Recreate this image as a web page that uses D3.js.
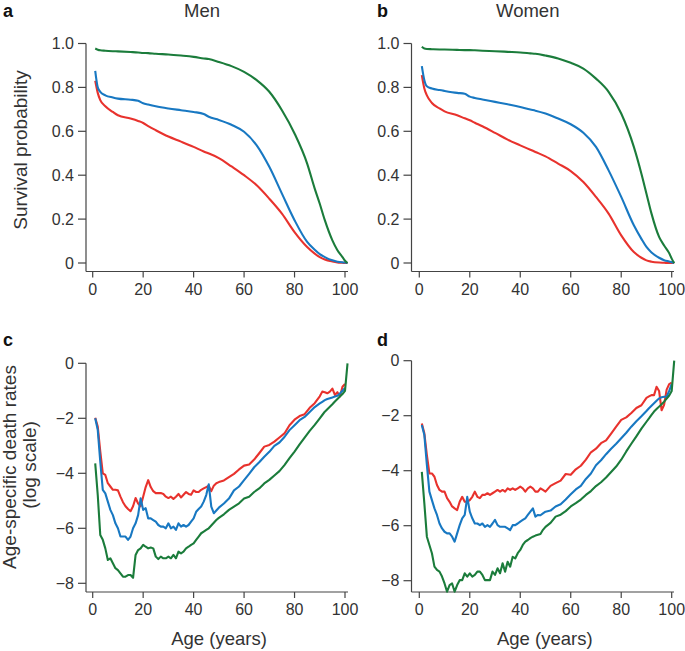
<!DOCTYPE html>
<html>
<head>
<meta charset="utf-8">
<script src="https://d3js.org/d3.v7.min.js"></script>
<style>
  body { margin: 0; background: #fff; }
  text { font-family: "Liberation Sans", Arial, Helvetica, sans-serif; fill: #333; }
</style>
</head>
<body>
<script>

var w = 685, h = 651;

// ages for survival curves
var survAges = [1,2,3,5,8,10,15,18,20,22,25,30,35,40,44,46,50,55,60,65,70,75,80,85,88,90,92,95,97,99,100,101];

var menRed   = [.83,.775,.742,.714,.688,.673,.658,.647,.638,.624,.605,.576,.553,.529,.508,.499,.478,.44,.40,.354,.293,.225,.141,.073,.043,.027,.016,.007,.003,.001,0,0];
var menBlue  = [.875,.80,.78,.764,.754,.749,.744,.739,.728,.722,.714,.704,.696,.688,.679,.666,.652,.630,.598,.536,.438,.316,.195,.096,.06,.04,.027,.012,.006,.003,.002,0];
var menGreen = [.977,.972,.969,.967,.965,.964,.961,.959,.957,.956,.953,.950,.945,.939,.932,.929,.916,.897,.871,.833,.78,.696,.59,.453,.339,.27,.195,.103,.058,.027,.01,0];

var womenRed   = [.856,.795,.764,.729,.704,.691,.673,.659,.650,.639,.623,.593,.562,.536,.516,.506,.486,.453,.419,.369,.301,.225,.126,.05,.024,.012,.006,.002,.001,0,0,0];
var womenBlue  = [.897,.833,.805,.795,.788,.784,.775,.771,.758,.752,.745,.734,.723,.711,.699,.694,.681,.658,.632,.593,.529,.422,.301,.172,.11,.073,.048,.024,.013,.007,.004,0];
var womenGreen = [.985,.977,.975,.974,.973,.973,.971,.970,.970,.969,.967,.965,.962,.959,.955,.953,.945,.932,.912,.886,.84,.78,.681,.529,.407,.316,.225,.119,.08,.045,.02,0];

// ages for death rates
var deathAges = [1,2,3,4,5,6,7,8,9,10,11,12,13,14,15,16,17,18,19,20,21,22,23,24,25,26,27,28,29,30,
  31,32,33,34,35,36,37,38,39,40,41,42,43,44,45,46,47,48,49,50,
  52,54,56,58,60,62,64,66,68,70,72,74,76,78,80,82,84,86,88,
  90,91,92,93,94,95,96,97,98,99,100,101];

var menRateRed = [-1.98,-2.3,-3.2,-4.0,-4.06,-4.36,-4.48,-4.6,-4.6,-4.62,
  -4.85,-5.05,-5.2,-5.3,-5.38,-5.2,-4.9,-5.1,-5.2,-4.85,
  -4.5,-4.25,-4.5,-4.65,-4.72,-4.72,-4.72,-4.75,-4.85,-4.9,
  -4.85,-4.93,-4.85,-4.75,-4.88,-4.78,-4.68,-4.75,-4.78,-4.62,
  -4.68,-4.68,-4.6,-4.55,-4.5,-4.45,-4.65,-4.45,-4.36,-4.32,
  -4.26,-4.14,-4.02,-3.86,-3.72,-3.68,-3.5,-3.27,-3.03,-2.97,-2.85,-2.7,-2.55,-2.25,-2.05,-1.92,-1.85,-1.62,-1.45,
  -1.2,-1.03,-1.05,-1.09,-1.03,-0.92,-1.15,-1.05,-1.2,-0.85,-0.75,null];
var menRateBlue = [-2.0,-2.42,-3.58,-4.6,-4.73,-5.03,-5.33,-5.52,-5.82,-6.0,
  -6.3,-6.3,-6.3,-6.42,-6.3,-6.0,-5.82,-5.52,-4.91,-5.33,
  -5.27,-5.64,-5.64,-5.7,-5.76,-5.88,-5.94,-5.94,-6.0,-5.82,
  -6.0,-5.94,-6.06,-5.82,-5.94,-5.88,-5.94,-5.88,-5.76,-5.64,
  -5.4,-5.3,-5.21,-5.03,-4.79,-4.4,-5.21,-5.45,-5.35,-5.25,
  -5.1,-4.92,-4.62,-4.48,-4.25,-4.02,-3.78,-3.6,-3.4,-3.22,-3.0,-2.88,-2.68,-2.43,-2.25,-2.07,-1.95,-1.77,-1.59,
  -1.46,-1.4,-1.34,-1.3,-1.27,-1.24,-1.21,-1.18,-1.1,-1.0,-0.9,null];
var menRateGreen = [-3.64,-4.79,-6.24,-6.42,-6.73,-7.15,-7.09,-7.27,-7.45,-7.52,
  -7.64,-7.76,-7.76,-7.7,-7.7,-7.8,-6.97,-6.79,-6.73,-6.6,
  -6.67,-6.73,-6.7,-6.73,-7.03,-7.12,-7.03,-7.09,-7.09,-7.03,
  -7.09,-6.97,-7.09,-6.85,-6.91,-6.85,-6.73,-6.67,-6.6,-6.55,
  -6.42,-6.3,-6.18,-6.12,-6.06,-6.0,-5.9,-5.8,-5.7,-5.62,
  -5.49,-5.33,-5.21,-5.09,-4.92,-4.85,-4.68,-4.55,-4.37,-4.24,-4.08,-3.92,-3.7,-3.45,-3.21,-2.95,-2.7,-2.46,-2.24,
  -2.0,-1.88,-1.76,-1.67,-1.58,-1.49,-1.39,-1.3,-1.21,-1.12,-1.0,0];

var womenRateRed = [-2.28,-2.64,-3.43,-4.1,-4.1,-4.22,-4.52,-4.7,-4.76,-4.76,
  -5.0,-5.13,-5.3,-5.37,-5.43,-5.13,-4.95,-5.13,-5.13,-5.07,
  -4.95,-4.76,-4.95,-5.0,-4.88,-4.88,-4.82,-4.88,-4.82,-4.76,
  -4.7,-4.76,-4.7,-4.76,-4.64,-4.7,-4.64,-4.7,-4.64,-4.58,
  -4.64,-4.76,-4.64,-4.58,-4.64,-4.76,-4.76,-4.64,-4.7,-4.76,
  -4.55,-4.45,-4.36,-4.12,-4.15,-3.95,-3.82,-3.6,-3.33,-3.2,-3.0,-2.9,-2.65,-2.4,-2.15,-2.06,-1.9,-1.72,-1.62,
  -1.35,-1.3,-1.25,-1.25,-0.95,-1.1,-1.8,-1.6,-1.05,-0.85,-0.8,null];
var womenRateBlue = [-2.34,-2.7,-3.79,-4.76,-5.07,-5.37,-5.61,-5.92,-6.1,-6.22,
  -6.28,-6.28,-6.4,-6.58,-6.28,-5.98,-5.73,-5.61,-4.95,-5.49,
  -5.73,-5.92,-5.92,-5.98,-5.92,-6.04,-5.98,-6.04,-5.92,-5.79,
  -5.98,-6.04,-6.04,-6.04,-6.1,-6.16,-5.98,-5.98,-5.92,-5.85,
  -5.79,-5.73,-5.61,-5.49,-5.37,-5.67,-5.61,-5.62,-5.55,-5.49,
  -5.45,-5.3,-5.22,-5.05,-4.86,-4.68,-4.55,-4.3,-4.1,-3.8,-3.62,-3.4,-3.2,-3.02,-2.82,-2.62,-2.4,-2.2,-2.02,
  -1.83,-1.73,-1.64,-1.55,-1.46,-1.37,-1.33,-1.31,-1.31,-1.1,-0.85,null];
var womenRateGreen = [-4.04,-5.19,-6.4,-6.7,-7.0,-7.49,-7.61,-7.67,-7.85,-8.1,
  -8.4,-8.16,-8.1,-8.4,-8.16,-7.98,-7.98,-7.73,-7.85,-7.73,
  -7.85,-7.79,-7.67,-7.67,-7.79,-7.98,-7.98,-7.98,-7.67,-7.79,
  -7.55,-7.73,-7.37,-7.67,-7.31,-7.49,-7.13,-7.19,-7.0,-6.88,
  -6.7,-6.58,-6.52,-6.45,-6.4,-6.36,-6.33,-6.3,-6.15,-6.04,
  -5.9,-5.67,-5.6,-5.47,-5.3,-5.18,-5.05,-4.88,-4.74,-4.56,-4.42,-4.25,-4.05,-3.85,-3.6,-3.3,-3.02,-2.75,-2.47,
  -2.22,-2.1,-1.97,-1.85,-1.76,-1.67,-1.58,-1.49,-1.38,-1.27,-1.1,0];

var xTicks = [0,20,40,60,80,100];
var survTicks = [0,0.2,0.4,0.6,0.8,1.0];
var survTickLabels = ["0","0.2","0.4","0.6","0.8","1.0"];
var rateTicks = [0,-2,-4,-6,-8];
var rateTickLabels = ["0","\u22122","\u22124","\u22126","\u22128"];

var colors = ["#e8322d", "#1878c2", "#1b7c3b"];

var svg = d3.select("body").append("svg")
  .attr("width", w)
  .attr("height", h);

var panels = [
  {letter: "a", title: "Men", left: 86, x0: 92.7, x1: 345, right: 348, top: 43.5, y0: 263, y1: 43.5, base: 271.5,
   domain: [0, 1], ticks: survTicks, labels: survTickLabels, ages: survAges, series: [menRed, menBlue, menGreen], curve: d3.curveMonotoneX},
  {letter: "b", title: "Women", left: 411.5, x0: 419.3, x1: 671.7, right: 674, top: 43.5, y0: 263, y1: 43.5, base: 271.5,
   domain: [0, 1], ticks: survTicks, labels: survTickLabels, ages: survAges, series: [womenRed, womenBlue, womenGreen], curve: d3.curveMonotoneX},
  {letter: "c", left: 86, x0: 92.7, x1: 345, right: 348, top: 363.3, y0: 583.3, y1: 363.3, base: 592,
   domain: [-8, 0], ticks: rateTicks, labels: rateTickLabels, ages: deathAges, series: [menRateRed, menRateBlue, menRateGreen], curve: d3.curveLinear},
  {letter: "d", left: 411.5, x0: 419.3, x1: 671.7, right: 674, top: 360.7, y0: 580.7, y1: 360.7, base: 592,
   domain: [-8, 0], ticks: rateTicks, labels: rateTickLabels, ages: deathAges, series: [womenRateRed, womenRateBlue, womenRateGreen], curve: d3.curveLinear}
];

panels.forEach(function(p) {
  var xScale = d3.scaleLinear().domain([0, 100]).range([p.x0, p.x1]);
  var yScale = d3.scaleLinear().domain(p.domain).range([p.y0, p.y1]);
  var g = svg.append("g");

  // axes lines
  g.append("line").attr("x1", p.left).attr("x2", p.left).attr("y1", p.top).attr("y2", p.base)
    .attr("stroke", "#444").attr("stroke-width", 1.2);
  g.append("line").attr("x1", p.left).attr("x2", p.right).attr("y1", p.base).attr("y2", p.base)
    .attr("stroke", "#444").attr("stroke-width", 1.2);

  // y ticks
  g.selectAll(".yt").data(p.ticks).enter().append("line")
    .attr("x1", p.left - 8).attr("x2", p.left)
    .attr("y1", function(d){ return yScale(d); })
    .attr("y2", function(d){ return yScale(d); })
    .attr("stroke", "#444").attr("stroke-width", 1.2);
  g.selectAll(".yl").data(p.ticks).enter().append("text")
    .attr("x", p.left - 12)
    .attr("y", function(d){ return yScale(d) + 5.5; })
    .attr("text-anchor", "end")
    .attr("font-size", 16)
    .text(function(d, i){ return p.labels[i]; });

  // x ticks
  g.selectAll(".xt").data(xTicks).enter().append("line")
    .attr("x1", function(d){ return xScale(d); })
    .attr("x2", function(d){ return xScale(d); })
    .attr("y1", p.base).attr("y2", p.base + 6)
    .attr("stroke", "#444").attr("stroke-width", 1.2);
  g.selectAll(".xl").data(xTicks).enter().append("text")
    .attr("x", function(d){ return xScale(d); })
    .attr("y", p.base + 23)
    .attr("text-anchor", "middle")
    .attr("font-size", 16)
    .text(function(d){ return d; });

  // lines
  var line = d3.line()
    .defined(function(d){ return d[1] !== null; })
    .x(function(d){ return xScale(d[0]); })
    .y(function(d){ return yScale(d[1]); })
    .curve(p.curve);

  p.series.forEach(function(vals, k) {
    var pts = p.ages.map(function(a, i){ return [a, vals[i]]; });
    g.append("path")
      .attr("d", line(pts))
      .attr("fill", "none")
      .attr("stroke", colors[k])
      .attr("stroke-width", 2.1)
      .attr("stroke-linejoin", "round");
  });

  // panel letter
  g.append("text")
    .attr("x", p.left < 200 ? 3 : 377)
    .attr("y", p.letter == "a" || p.letter == "b" ? 17 : 346)
    .attr("font-size", 18)
    .attr("font-weight", "bold")
    .style("fill", "#111")
    .text(p.letter);

  if (p.title) {
    g.append("text")
      .attr("x", (p.left + p.right) / 2 - 15)
      .attr("y", 17)
      .attr("text-anchor", "middle")
      .attr("font-size", 18.5)
      .text(p.title);
  }

  if (p.letter == "c" || p.letter == "d") {
    g.append("text")
      .attr("x", (p.left + p.right) / 2 + 2)
      .attr("y", 645)
      .attr("text-anchor", "middle")
      .attr("font-size", 18.5)
      .text("Age (years)");
  }
});

// y axis titles
svg.append("text")
  .attr("transform", "translate(27,150) rotate(-90)")
  .attr("text-anchor", "middle")
  .attr("font-size", 19)
  .text("Survival probability");

svg.append("text")
  .attr("transform", "translate(15.5,467) rotate(-90)")
  .attr("text-anchor", "middle")
  .attr("font-size", 19)
  .text("Age-specific death rates");

svg.append("text")
  .attr("transform", "translate(36,465) rotate(-90)")
  .attr("text-anchor", "middle")
  .attr("font-size", 19)
  .text("(log scale)");

</script>
</body>
</html>
